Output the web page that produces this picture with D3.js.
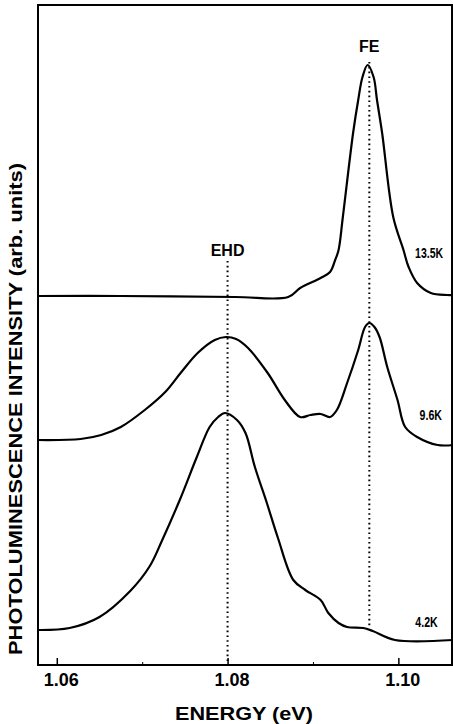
<!DOCTYPE html>
<html>
<head>
<meta charset="utf-8">
<script src="https://cdn.jsdelivr.net/npm/d3@7"></script>
<style>
  body { margin: 0; background: #fff; }
  text { font-family: "Liberation Sans", Arial, sans-serif; fill: #000; }
</style>
</head>
<body>
<div id="chart"></div>
<script>
// photon energy (eV) / intensity (arb. units, curves stacked with offsets)
var energy42 = [1.0578, 1.0615, 1.0650, 1.0686, 1.0709, 1.0723, 1.0744, 1.0764, 1.0779, 1.0789, 1.0797, 1.0811, 1.0821, 1.0832, 1.0846, 1.0859, 1.0877, 1.0891, 1.0909, 1.0918, 1.0930, 1.0940, 1.0959, 1.0970, 1.0996, 1.1064];
var intens42 = [3.5, 3.7, 4.8, 7.4, 9.9, 12.4, 16.5, 20.8, 23.8, 24.8, 25.2, 24.5, 23.2, 19.8, 16.2, 12.7, 8.5, 7.5, 6.5, 5.2, 4.2, 3.8, 3.7, 3.4, 2.5, 2.5];

var energy96 = [1.0578, 1.0628, 1.0652, 1.0675, 1.0703, 1.0727, 1.0745, 1.0765, 1.0785, 1.0798, 1.0810, 1.0824, 1.0847, 1.0867, 1.0885, 1.0897, 1.0909, 1.0920, 1.0928, 1.0940, 1.0953, 1.0961, 1.0966, 1.0972, 1.0978, 1.0987, 1.0999, 1.1008, 1.1022, 1.1046, 1.1064];
var intens96 = [22.5, 22.6, 23.0, 23.8, 25.5, 27.3, 29.2, 31.2, 32.5, 32.8, 32.6, 31.7, 29.2, 26.5, 24.8, 25.0, 25.1, 24.8, 25.5, 28.2, 31.5, 33.8, 34.2, 33.8, 32.8, 29.8, 26.5, 23.8, 22.8, 22.0, 22.0];

var energy135 = [1.0578, 1.0674, 1.0809, 1.0871, 1.0885, 1.0909, 1.0920, 1.0926, 1.0930, 1.0935, 1.0947, 1.0953, 1.0958, 1.0964, 1.0971, 1.0975, 1.0981, 1.0994, 1.1006, 1.1012, 1.1022, 1.1038, 1.1057, 1.1064];
var intens135 = [36.9, 36.9, 36.8, 36.8, 37.7, 38.7, 39.3, 40.5, 41.5, 44.8, 53.2, 56.5, 58.8, 60.0, 58.8, 56.5, 53.2, 44.8, 41.5, 39.8, 38.2, 37.2, 37.0, 37.0];

var tempLabels = ["4.2K", "9.6K", "13.5K"];
var labelEnergy = [1.1033, 1.1038, 1.1036];
var labelIntens = [3.8, 24.5, 40.7];

var majorTicks = [1.06, 1.08, 1.10];
var minorTicks = [1.07, 1.09];

// marker lines: EHD and FE
var markerNames = ["EHD", "FE"];
var markerEnergy = [1.0800, 1.0966];
var markerTop = [40.4, 60.3];
var markerBottom = [0, 3.7];
var markerLabelIntens = [40.9, 61.3];

var width = 453, height = 724;
var mLeft = 38, mRight = 453, mTop = 5, mBottom = 665;

var svg = d3.select("#chart").append("svg")
    .attr("width", width)
    .attr("height", height);

var x = d3.scaleLinear().domain([1.0578, 1.1064]).range([mLeft, mRight]);
var y = d3.scaleLinear().domain([0, 66]).range([mBottom, mTop]);

// frame
svg.append("rect")
    .attr("x", mLeft)
    .attr("y", mTop)
    .attr("width", mRight - mLeft - 1)
    .attr("height", mBottom - mTop)
    .attr("fill", "none")
    .attr("stroke", "#000")
    .attr("stroke-width", 2);

// x axis, ticks pointing inward
var xAxis = d3.axisBottom(x)
    .tickValues(majorTicks)
    .tickSizeInner(-7)
    .tickSizeOuter(0)
    .tickPadding(8)
    .tickFormat(d3.format(".2f"));

var gx = svg.append("g")
    .attr("transform", "translate(0," + mBottom + ")")
    .call(xAxis);
gx.select(".domain").remove();
gx.selectAll(".tick line").attr("stroke-width", 1.5);
gx.selectAll(".tick text")
    .attr("dx", 4)
    .style("font-size", "18px")
    .style("font-weight", "bold")
    .style("font-family", "'Liberation Sans', Arial, sans-serif");

var gm = svg.append("g")
    .attr("transform", "translate(0," + mBottom + ")")
    .call(d3.axisBottom(x).tickValues(minorTicks).tickSizeInner(-3).tickSizeOuter(0).tickFormat(""));
gm.select(".domain").remove();

// curves
var line = d3.line()
    .x(function (d) { return x(d[0]); })
    .y(function (d) { return y(d[1]); })
    .curve(d3.curveCatmullRom.alpha(0.5));

var series = [
    d3.zip(energy42, intens42),
    d3.zip(energy96, intens96),
    d3.zip(energy135, intens135)
];

svg.selectAll(".spectrum")
    .data(series)
    .enter()
    .append("path")
    .attr("class", "spectrum")
    .attr("d", line)
    .attr("fill", "none")
    .attr("stroke", "#000")
    .attr("stroke-width", 2.2)
    .attr("stroke-linejoin", "round");

// dotted marker lines
markerNames.forEach(function (name, i) {
    svg.append("line")
        .attr("x1", x(markerEnergy[i]))
        .attr("x2", x(markerEnergy[i]))
        .attr("y1", y(markerTop[i]))
        .attr("y2", y(markerBottom[i]))
        .attr("stroke", "#000")
        .attr("stroke-width", 2)
        .attr("stroke-dasharray", "1.6,3.2");

    svg.append("text")
        .attr("x", x(markerEnergy[i]))
        .attr("y", y(markerLabelIntens[i]))
        .attr("text-anchor", "middle")
        .style("font-size", "16px")
        .style("font-weight", "bold")
        .text(name);
});

// temperature labels
svg.selectAll(".temp")
    .data(tempLabels)
    .enter()
    .append("text")
    .attr("class", "temp")
    .attr("x", function (d, i) { return x(labelEnergy[i]); })
    .attr("y", function (d, i) { return y(labelIntens[i]); })
    .attr("text-anchor", "middle")
    .attr("textLength", function (d) { return d.length * 5.6; })
    .attr("lengthAdjust", "spacingAndGlyphs")
    .style("font-size", "14px")
    .style("font-weight", "bold")
    .text(function (d) { return d; });

// axis titles
svg.append("text")
    .attr("x", 244)
    .attr("y", 720)
    .attr("text-anchor", "middle")
    .attr("textLength", 138)
    .attr("lengthAdjust", "spacingAndGlyphs")
    .style("font-size", "18px")
    .style("font-weight", "bold")
    .text("ENERGY  (eV)");

svg.append("text")
    .attr("transform", "translate(22,409) rotate(-90)")
    .attr("text-anchor", "middle")
    .attr("textLength", 492)
    .attr("lengthAdjust", "spacingAndGlyphs")
    .style("font-size", "18px")
    .style("font-weight", "bold")
    .text("PHOTOLUMINESCENCE INTENSITY (arb. units)");
</script>
</body>
</html>
